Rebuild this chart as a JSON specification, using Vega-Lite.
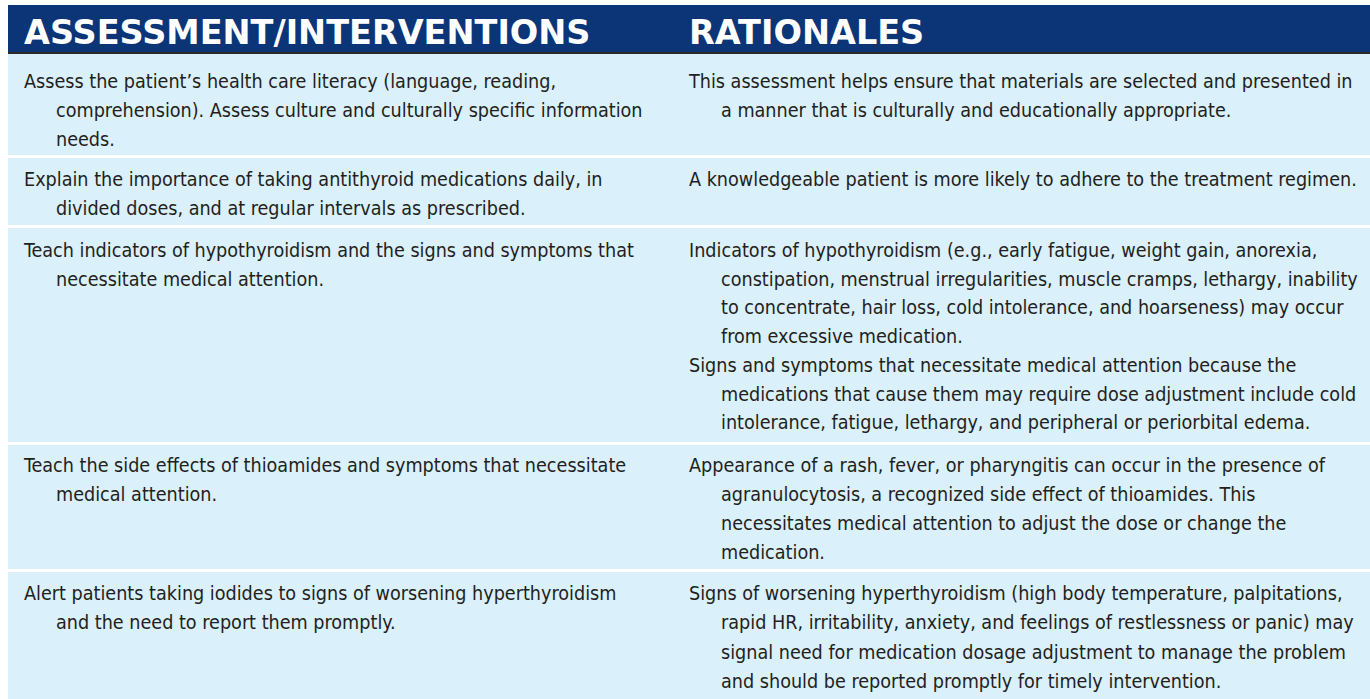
{
  "$schema": "https://vega.github.io/schema/vega-lite/v6.json",
  "padding": {"left": 8, "top": 5, "right": 0, "bottom": 0},
  "background": "#ffffff",
  "bounds": "flush",
  "spacing": 0,
  "config": {
    "view": {"stroke": null},
    "text": {"font": "DejaVu Sans Condensed, DejaVu Sans", "fontSize": 19.6, "color": "#231f20", "align": "left", "baseline": "alphabetic"}
  },
  "datasets": {
    "header": [
      {"column": "Assessment/Interventions", "label": "ASSESSMENT/INTERVENTIONS", "line": 1},
      {"column": "Rationales", "label": "RATIONALES", "line": 1}
    ],
    "lines": [
      {"row": 1, "column": "Assessment/Interventions", "line": 1, "continued": false, "text": "Assess the patient’s health care literacy (language, reading,"},
      {"row": 1, "column": "Assessment/Interventions", "line": 2, "continued": true, "text": "comprehension). Assess culture and culturally specific information"},
      {"row": 1, "column": "Assessment/Interventions", "line": 3, "continued": true, "text": "needs."},
      {"row": 1, "column": "Rationales", "line": 1, "continued": false, "text": "This assessment helps ensure that materials are selected and presented in"},
      {"row": 1, "column": "Rationales", "line": 2, "continued": true, "text": "a manner that is culturally and educationally appropriate."},
      {"row": 2, "column": "Assessment/Interventions", "line": 1, "continued": false, "text": "Explain the importance of taking antithyroid medications daily, in"},
      {"row": 2, "column": "Assessment/Interventions", "line": 2, "continued": true, "text": "divided doses, and at regular intervals as prescribed."},
      {"row": 2, "column": "Rationales", "line": 1, "continued": false, "text": "A knowledgeable patient is more likely to adhere to the treatment regimen."},
      {"row": 3, "column": "Assessment/Interventions", "line": 1, "continued": false, "text": "Teach indicators of hypothyroidism and the signs and symptoms that"},
      {"row": 3, "column": "Assessment/Interventions", "line": 2, "continued": true, "text": "necessitate medical attention."},
      {"row": 3, "column": "Rationales", "line": 1, "continued": false, "text": "Indicators of hypothyroidism (e.g., early fatigue, weight gain, anorexia,"},
      {"row": 3, "column": "Rationales", "line": 2, "continued": true, "text": "constipation, menstrual irregularities, muscle cramps, lethargy, inability"},
      {"row": 3, "column": "Rationales", "line": 3, "continued": true, "text": "to concentrate, hair loss, cold intolerance, and hoarseness) may occur"},
      {"row": 3, "column": "Rationales", "line": 4, "continued": true, "text": "from excessive medication."},
      {"row": 3, "column": "Rationales", "line": 5, "continued": false, "text": "Signs and symptoms that necessitate medical attention because the"},
      {"row": 3, "column": "Rationales", "line": 6, "continued": true, "text": "medications that cause them may require dose adjustment include cold"},
      {"row": 3, "column": "Rationales", "line": 7, "continued": true, "text": "intolerance, fatigue, lethargy, and peripheral or periorbital edema."},
      {"row": 4, "column": "Assessment/Interventions", "line": 1, "continued": false, "text": "Teach the side effects of thioamides and symptoms that necessitate"},
      {"row": 4, "column": "Assessment/Interventions", "line": 2, "continued": true, "text": "medical attention."},
      {"row": 4, "column": "Rationales", "line": 1, "continued": false, "text": "Appearance of a rash, fever, or pharyngitis can occur in the presence of"},
      {"row": 4, "column": "Rationales", "line": 2, "continued": true, "text": "agranulocytosis, a recognized side effect of thioamides. This"},
      {"row": 4, "column": "Rationales", "line": 3, "continued": true, "text": "necessitates medical attention to adjust the dose or change the"},
      {"row": 4, "column": "Rationales", "line": 4, "continued": true, "text": "medication."},
      {"row": 5, "column": "Assessment/Interventions", "line": 1, "continued": false, "text": "Alert patients taking iodides to signs of worsening hyperthyroidism"},
      {"row": 5, "column": "Assessment/Interventions", "line": 2, "continued": true, "text": "and the need to report them promptly."},
      {"row": 5, "column": "Rationales", "line": 1, "continued": false, "text": "Signs of worsening hyperthyroidism (high body temperature, palpitations,"},
      {"row": 5, "column": "Rationales", "line": 2, "continued": true, "text": "rapid HR, irritability, anxiety, and feelings of restlessness or panic) may"},
      {"row": 5, "column": "Rationales", "line": 3, "continued": true, "text": "signal need for medication dosage adjustment to manage the problem"},
      {"row": 5, "column": "Rationales", "line": 4, "continued": true, "text": "and should be reported promptly for timely intervention."}
    ]
  },
  "vconcat": [
    {
      "width": 1362, "height": 47,
      "view": {"fill": "#0b3577", "stroke": null},
      "data": {"name": "header"},
      "mark": {"type": "text", "font": "DejaVu Sans", "fontWeight": "bold", "fontSize": 33.5, "color": "#ffffff", "align": "left", "baseline": "alphabetic"},
      "encoding": {
        "x": {"field": "column", "type": "nominal", "scale": {"type": "point", "domain": ["Assessment/Interventions", "Rationales"], "range": [16, 681], "padding": 0}, "axis": null},
        "y": {"field": "line", "type": "quantitative", "scale": {"domain": [0.17, 1.17], "reverse": true, "zero": false, "nice": false}, "axis": null},
        "text": {"field": "label"}
      }
    },
    {
      "width": 1362, "height": 2,
      "view": {"fill": "#2a2a2a", "stroke": null},
      "data": {"values": [{"element": "header rule"}]},
      "mark": {"type": "rect", "color": "#2a2a2a"},
      "encoding": {}
    },
    {
      "spacing": 3,
      "bounds": "flush",
      "data": {"name": "lines"},
      "vconcat": [
        {
          "width": 1362, "height": 101,
          "view": {"fill": "#daf0fb", "stroke": null},
          "transform": [{"filter": "datum.row === 1"}],
          "encoding": {
            "x": {"field": "column", "type": "nominal", "scale": {"type": "point", "domain": ["Assessment/Interventions", "Rationales"], "range": [16, 681], "padding": 0}, "axis": null},
            "y": {"field": "line", "type": "quantitative", "scale": {"domain": [-0.172, 3.311], "reverse": true, "zero": false, "nice": false}, "axis": null},
            "text": {"field": "text"}
          },
          "layer": [
            {"transform": [{"filter": "!datum.continued"}], "mark": {"type": "text"}},
            {"transform": [{"filter": "datum.continued"}], "mark": {"type": "text", "dx": 32}}
          ]
        },
        {
          "width": 1362, "height": 67,
          "view": {"fill": "#daf0fb", "stroke": null},
          "transform": [{"filter": "datum.row === 2"}],
          "encoding": {
            "x": {"field": "column", "type": "nominal", "scale": {"type": "point", "domain": ["Assessment/Interventions", "Rationales"], "range": [16, 681], "padding": 0}, "axis": null},
            "y": {"field": "line", "type": "quantitative", "scale": {"domain": [0.0345, 2.345], "reverse": true, "zero": false, "nice": false}, "axis": null},
            "text": {"field": "text"}
          },
          "layer": [
            {"transform": [{"filter": "!datum.continued"}], "mark": {"type": "text"}},
            {"transform": [{"filter": "datum.continued"}], "mark": {"type": "text", "dx": 32}}
          ]
        },
        {
          "width": 1362, "height": 214,
          "view": {"fill": "#daf0fb", "stroke": null},
          "transform": [{"filter": "datum.row === 3"}],
          "encoding": {
            "x": {"field": "column", "type": "nominal", "scale": {"type": "point", "domain": ["Assessment/Interventions", "Rationales"], "range": [16, 681], "padding": 0}, "axis": null},
            "y": {"field": "line", "type": "quantitative", "scale": {"domain": [-0.0105, 7.446], "reverse": true, "zero": false, "nice": false}, "axis": null},
            "text": {"field": "text"}
          },
          "layer": [
            {"transform": [{"filter": "!datum.continued"}], "mark": {"type": "text"}},
            {"transform": [{"filter": "datum.continued"}], "mark": {"type": "text", "dx": 32}}
          ]
        },
        {
          "width": 1362, "height": 124,
          "view": {"fill": "#daf0fb", "stroke": null},
          "transform": [{"filter": "datum.row === 4"}],
          "encoding": {
            "x": {"field": "column", "type": "nominal", "scale": {"type": "point", "domain": ["Assessment/Interventions", "Rationales"], "range": [16, 681], "padding": 0}, "axis": null},
            "y": {"field": "line", "type": "quantitative", "scale": {"domain": [0.069, 4.345], "reverse": true, "zero": false, "nice": false}, "axis": null},
            "text": {"field": "text"}
          },
          "layer": [
            {"transform": [{"filter": "!datum.continued"}], "mark": {"type": "text"}},
            {"transform": [{"filter": "datum.continued"}], "mark": {"type": "text", "dx": 32}}
          ]
        },
        {
          "width": 1362, "height": 127,
          "view": {"fill": "#daf0fb", "stroke": null},
          "transform": [{"filter": "datum.row === 5"}],
          "encoding": {
            "x": {"field": "column", "type": "nominal", "scale": {"type": "point", "domain": ["Assessment/Interventions", "Rationales"], "range": [16, 681], "padding": 0}, "axis": null},
            "y": {"field": "line", "type": "quantitative", "scale": {"domain": [0.044, 4.379], "reverse": true, "zero": false, "nice": false}, "axis": null},
            "text": {"field": "text"}
          },
          "layer": [
            {"transform": [{"filter": "!datum.continued"}], "mark": {"type": "text"}},
            {"transform": [{"filter": "datum.continued"}], "mark": {"type": "text", "dx": 32}}
          ]
        }
      ]
    }
  ]
}
